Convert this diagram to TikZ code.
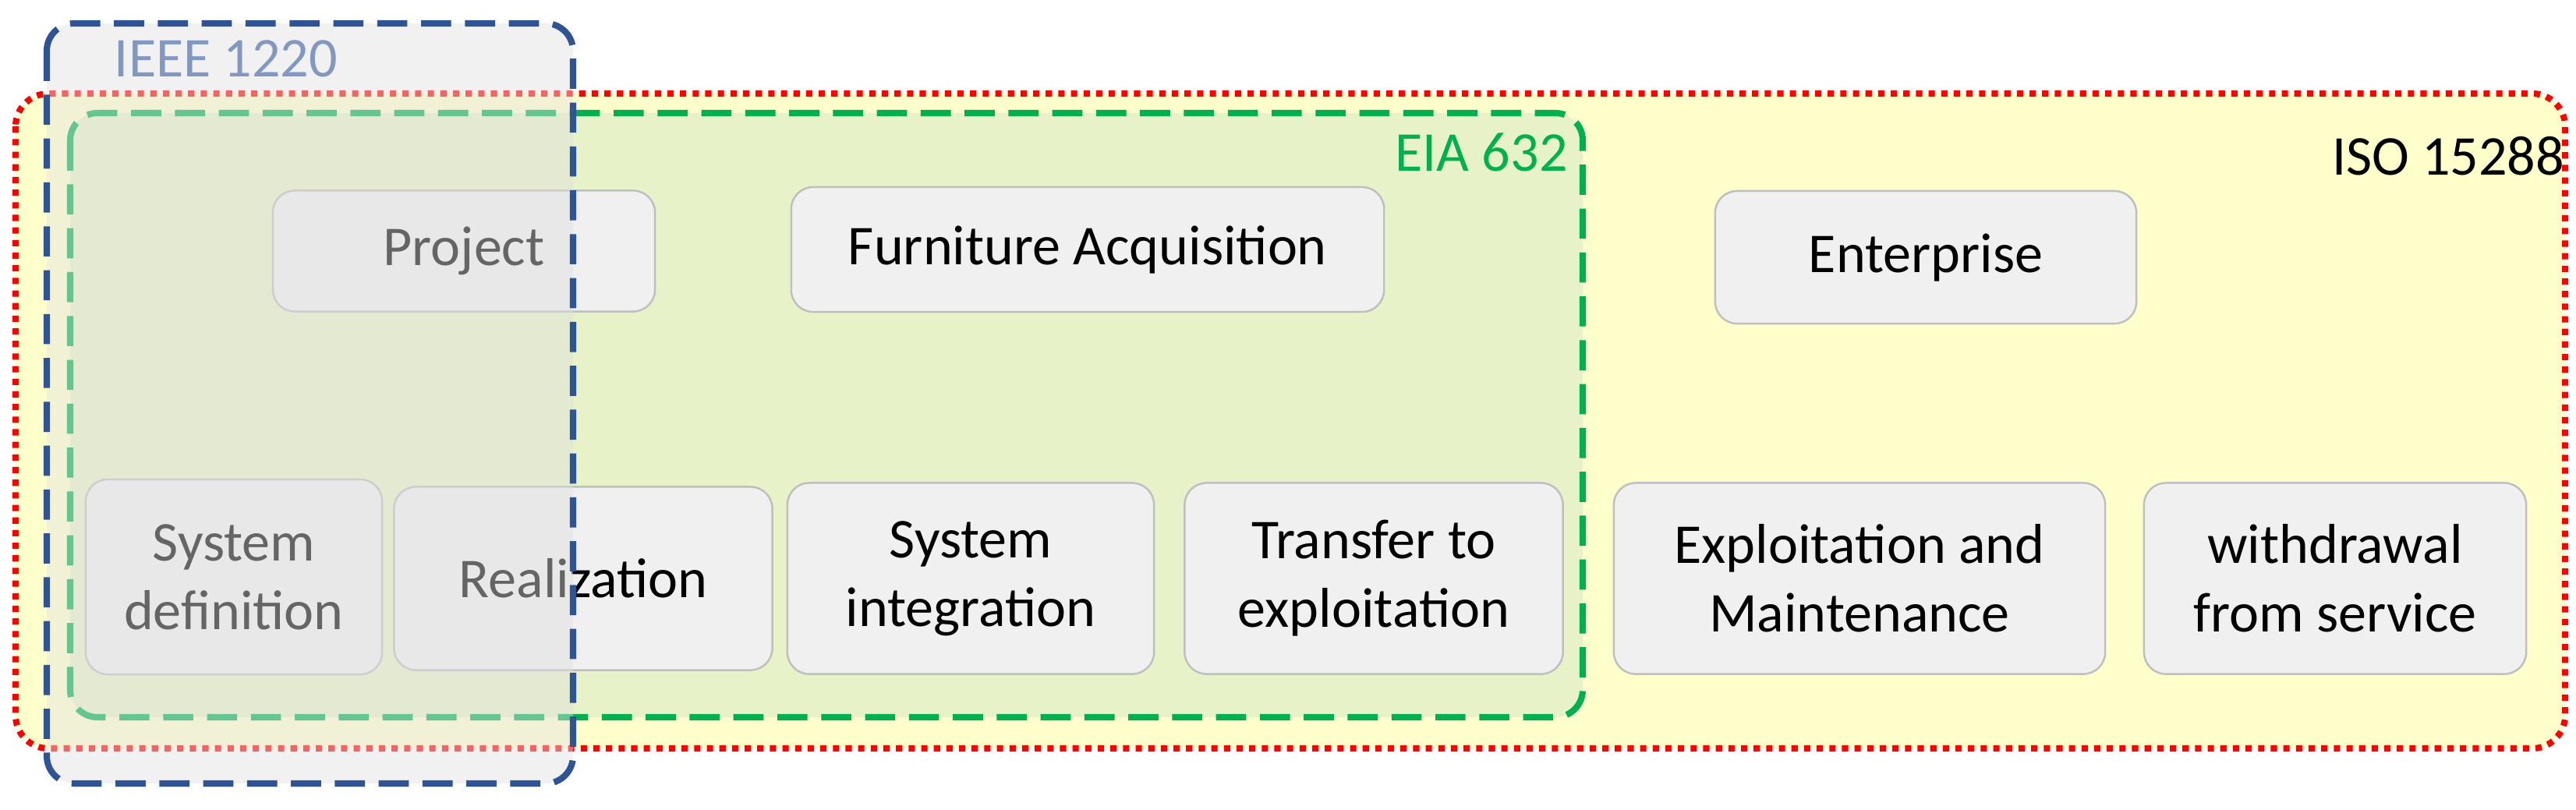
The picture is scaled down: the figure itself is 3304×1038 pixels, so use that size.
\documentclass[tikz,border=0pt]{standalone}
\usepackage{fontspec}
\setmainfont{Carlito}
\begin{document}
\begin{tikzpicture}[x=0.01cm,y=-0.01cm,
  box/.style={draw=black!25,fill=black!6,rounded corners=8pt,line width=0.7pt,font=\fontsize{20.5}{25}\selectfont,align=center,inner sep=0pt},
]
\useasboundingbox (0,0) rectangle (3304,1038);
\definecolor{isoY}{RGB}{255,255,204}
\definecolor{eiaG}{RGB}{0,176,80}
\definecolor{ieeeB}{RGB}{47,84,150}
\definecolor{eiaF}{RGB}{232,242,200}
\fill[fill=isoY,rounded corners=12pt] (20,120) rectangle (3290,960);
\draw[red,dash pattern=on 2.3pt off 2.3pt,line width=2.3pt,rounded corners=12pt] (20,120) rectangle (3290,960);
\fill[fill=eiaF,rounded corners=10pt] (90,145) rectangle (2030,920);
\node[box,minimum width=4.9cm,minimum height=1.55cm] (proj) at (595,322) {Project};
\node[box,minimum width=7.6cm,minimum height=1.6cm] (furn) at (1395,320) {Furniture Acquisition};
\node[box,minimum width=5.4cm,minimum height=1.7cm] (ent) at (2470,330) {Enterprise};
\node[box,minimum width=3.8cm,minimum height=2.5cm] (sd) at (300,740) {System\\definition};
\node[box,minimum width=4.85cm,minimum height=2.35cm] (real) at (748,742) {Realization};
\node[box,minimum width=4.7cm,minimum height=2.45cm] (si) at (1245,742) {System\\integration};
\node[box,minimum width=4.85cm,minimum height=2.45cm] (tr) at (1762,742) {Transfer to\\exploitation};
\node[box,minimum width=6.3cm,minimum height=2.45cm] (ex) at (2385,742) {Exploitation and\\Maintenance};
\node[box,minimum width=4.9cm,minimum height=2.45cm] (wd) at (2995,742) {withdrawal\\from service};
\draw[eiaG,dash pattern=on 11pt off 5pt,line width=2.3pt,rounded corners=10pt] (90,145) rectangle (2030,920);
\fill[black!12,opacity=0.45,rounded corners=10pt] (60,30) rectangle (735,1005);
\draw[ieeeB,dash pattern=on 11pt off 5pt,line width=2.3pt,rounded corners=10pt] (60,30) rectangle (735,1005);
\node[font=\fontsize{20.5}{25}\selectfont,text=ieeeB!60] (ieee) at (290,75) {IEEE 1220};
\node[font=\fontsize{20.5}{25}\selectfont,text=eiaG] (eia) at (1900,195) {EIA 632};
\node[font=\fontsize{20.5}{25}\selectfont] (iso) at (3140,200) {ISO 15288};
\end{tikzpicture}
\end{document}
